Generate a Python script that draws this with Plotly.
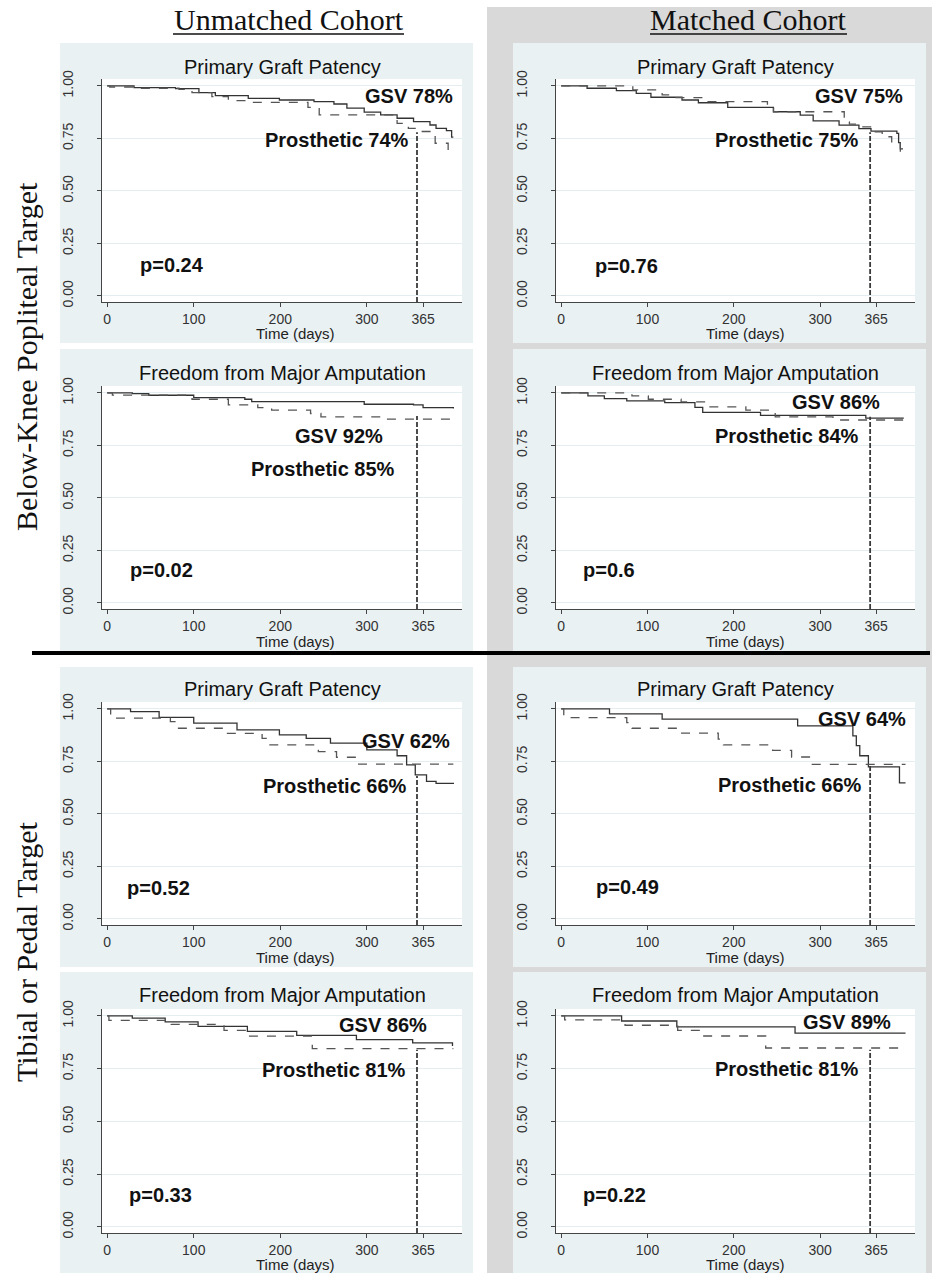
import plotly.graph_objects as go

W, H = 940, 1273

# ---------------- data ----------------
col_headers = ["Unmatched Cohort", "Matched Cohort"]
row_labels = ["Below-Knee Popliteal Target", "Tibial or Pedal Target"]
panel_titles = ["Primary Graft Patency", "Freedom from Major Amputation",
                "Primary Graft Patency", "Freedom from Major Amputation"]
x_tickvals = [0, 100, 200, 300, 365]
y_tickvals = [0, 0.25, 0.5, 0.75, 1.0]
y_ticktext = ["0.00", "0.25", "0.50", "0.75", "1.00"]
landmark_day = 358

# Unmatched cohort - below-knee popliteal - primary patency
u_bkp_gsv_t = [0, 31, 79, 106, 125, 163, 199, 239, 262, 277, 297, 316, 335, 354, 373, 380, 392, 398, 400]
u_bkp_gsv_s = [1.0, 0.992, 0.987, 0.968, 0.954, 0.941, 0.933, 0.925, 0.914, 0.894, 0.875, 0.862, 0.846, 0.830, 0.814, 0.798, 0.787, 0.756, 0.756]
u_bkp_pro_t = [0, 3, 31, 83, 98, 121, 140, 167, 232, 245, 331, 335, 348, 360, 375, 379, 394, 398]
u_bkp_pro_s = [1.0, 0.995, 0.989, 0.984, 0.968, 0.949, 0.930, 0.922, 0.898, 0.862, 0.846, 0.822, 0.798, 0.783, 0.767, 0.727, 0.671, 0.671]

# Unmatched - below-knee popliteal - freedom from major amputation
u_bka_gsv_t = [0, 29, 48, 100, 159, 167, 297, 354, 365, 400]
u_bka_gsv_s = [1.0, 0.997, 0.989, 0.978, 0.970, 0.959, 0.946, 0.943, 0.930, 0.926]
u_bka_pro_t = [0, 6, 98, 140, 174, 190, 235, 247, 316, 400]
u_bka_pro_s = [1.0, 0.990, 0.970, 0.943, 0.930, 0.918, 0.902, 0.886, 0.875, 0.875]

# Unmatched - tibial/pedal - primary patency
u_tbp_gsv_t = [0, 27, 60, 100, 150, 199, 230, 258, 300, 335, 346, 356, 369, 380, 400]
u_tbp_gsv_s = [1.0, 0.987, 0.960, 0.932, 0.900, 0.876, 0.860, 0.837, 0.805, 0.777, 0.734, 0.686, 0.655, 0.645, 0.643]
u_tbp_pro_t = [0, 4, 73, 81, 138, 179, 185, 244, 265, 288, 400]
u_tbp_pro_s = [1.0, 0.956, 0.940, 0.908, 0.884, 0.860, 0.829, 0.797, 0.770, 0.737, 0.737]

# Unmatched - tibial/pedal - freedom from major amputation
u_tba_gsv_t = [0, 29, 67, 105, 162, 219, 288, 353, 399]
u_tba_gsv_s = [1.0, 0.990, 0.972, 0.951, 0.927, 0.908, 0.888, 0.872, 0.858]
u_tba_pro_t = [0, 2, 74, 135, 162, 237, 400]
u_tba_pro_s = [1.0, 0.979, 0.960, 0.932, 0.904, 0.845, 0.845]

# Matched - below-knee popliteal - primary patency
m_bkp_gsv_t = [0, 30, 64, 87, 104, 140, 159, 193, 246, 277, 292, 322, 345, 359, 389, 391, 393, 396]
m_bkp_gsv_s = [1.0, 0.989, 0.978, 0.965, 0.946, 0.933, 0.920, 0.898, 0.877, 0.861, 0.834, 0.813, 0.797, 0.785, 0.774, 0.730, 0.700, 0.700]
m_bkp_pro_t = [0, 83, 117, 132, 167, 239, 246, 328, 334, 345, 364, 372, 383, 393, 395]
m_bkp_pro_s = [1.0, 0.981, 0.957, 0.944, 0.925, 0.898, 0.877, 0.829, 0.818, 0.805, 0.781, 0.758, 0.729, 0.686, 0.686]

# Matched - below-knee popliteal - freedom from major amputation
m_bka_gsv_t = [0, 31, 50, 76, 120, 155, 164, 231, 353, 397]
m_bka_gsv_s = [1.0, 0.986, 0.973, 0.962, 0.954, 0.931, 0.907, 0.893, 0.880, 0.880]
m_bka_pro_t = [0, 82, 101, 139, 170, 214, 248, 315, 397]
m_bka_pro_s = [1.0, 0.986, 0.970, 0.957, 0.934, 0.918, 0.886, 0.871, 0.871]

# Matched - tibial/pedal - primary patency
m_tbp_gsv_t = [0, 56, 117, 274, 338, 342, 346, 356, 392, 399]
m_tbp_gsv_s = [1.0, 0.976, 0.951, 0.919, 0.872, 0.825, 0.777, 0.724, 0.648, 0.648]
m_tbp_pro_t = [0, 3, 76, 82, 138, 182, 188, 245, 267, 291, 399]
m_tbp_pro_s = [1.0, 0.959, 0.935, 0.908, 0.885, 0.856, 0.829, 0.803, 0.771, 0.736, 0.736]

# Matched - tibial/pedal - freedom from major amputation
m_tba_gsv_t = [0, 70, 134, 271, 399]
m_tba_gsv_s = [1.0, 0.976, 0.948, 0.919, 0.919]
m_tba_pro_t = [0, 4, 74, 135, 162, 237, 399]
m_tba_pro_s = [1.0, 0.981, 0.956, 0.932, 0.905, 0.848, 0.848]

gsv_text = ["GSV 78%", "GSV 92%", "GSV 62%", "GSV 86%", "GSV 75%", "GSV 86%", "GSV 64%", "GSV 89%"]
pro_text = ["Prosthetic 74%", "Prosthetic 85%", "Prosthetic 66%", "Prosthetic 81%",
            "Prosthetic 75%", "Prosthetic 84%", "Prosthetic 66%", "Prosthetic 81%"]
p_text = ["p=0.24", "p=0.02", "p=0.52", "p=0.33", "p=0.76", "p=0.6", "p=0.49", "p=0.22"]
landmark_surv = [0.78, 0.89, 0.68, 0.84, 0.78, 0.886, 0.73, 0.84]

series = [
    (u_bkp_gsv_t, u_bkp_gsv_s, u_bkp_pro_t, u_bkp_pro_s),
    (u_bka_gsv_t, u_bka_gsv_s, u_bka_pro_t, u_bka_pro_s),
    (u_tbp_gsv_t, u_tbp_gsv_s, u_tbp_pro_t, u_tbp_pro_s),
    (u_tba_gsv_t, u_tba_gsv_s, u_tba_pro_t, u_tba_pro_s),
    (m_bkp_gsv_t, m_bkp_gsv_s, m_bkp_pro_t, m_bkp_pro_s),
    (m_bka_gsv_t, m_bka_gsv_s, m_bka_pro_t, m_bka_pro_s),
    (m_tbp_gsv_t, m_tbp_gsv_s, m_tbp_pro_t, m_tbp_pro_s),
    (m_tba_gsv_t, m_tba_gsv_s, m_tba_pro_t, m_tba_pro_s),
]

# ---------------- layout (pixel geometry) ----------------
gsv_pos = [(402, 0.95), (321, 0.797), (399, 0.848), (372, 0.956),
           (398, 0.952), (372, 0.957), (402, 0.953), (385, 0.971)]
pro_pos = [(351, 0.743), (335, 0.639), (349, 0.631), (348, 0.742),
           (347, 0.742), (347, 0.797), (351, 0.637), (347, 0.747)]
p_pos = [(36, 0.148), (24, 0.155), (21, 0.147), (23, 0.15),
         (37, 0.144), (23, 0.155), (38, 0.15), (23, 0.15)]

col_plot_x = [(102, 462), (556, 915)]
row_plot_y = [(79, 302), (386, 609), (702, 925), (1009, 1233)]
col_bg_x = [(60, 473), (513, 926)]
row_bg_y = [(43, 343), (349, 651), (667, 967), (972, 1273)]
title_y = [67, 373, 689, 995]
time_y = [333, 641, 957, 1264]
time_x = [295, 745]

XR = [-6, 410]
YR = [-0.029, 1.033]

SANS = "Liberation Sans, Arial, sans-serif"
SERIF = "Liberation Serif, Times New Roman, serif"


def px(x):
    return x / W


def py(y):
    return 1 - y / H


def paper_text(text, x, y, font, angle=0):
    return dict(text=text, x=px(x), y=py(y), xref="paper", yref="paper",
                xanchor="center", yanchor="middle", textangle=angle,
                showarrow=False, font=font)


fig = go.Figure()
shapes = []
annotations = []

# gray background for matched cohort
shapes.append(dict(type="rect", xref="paper", yref="paper", x0=px(487), x1=px(932),
                   y0=py(1273), y1=py(7), fillcolor="#d9d9d9", line_width=0, layer="below"))
# panel backgrounds
for c in range(2):
    for r in range(4):
        shapes.append(dict(type="rect", xref="paper", yref="paper",
                           x0=px(col_bg_x[c][0]), x1=px(col_bg_x[c][1]),
                           y0=py(row_bg_y[r][1]), y1=py(row_bg_y[r][0]),
                           fillcolor="#eaf1f3", line_width=0, layer="below"))
# white plot areas
for c in range(2):
    for r in range(4):
        shapes.append(dict(type="rect", xref="paper", yref="paper",
                           x0=px(col_plot_x[c][0]), x1=px(col_plot_x[c][1]),
                           y0=py(row_plot_y[r][1]), y1=py(row_plot_y[r][0]),
                           fillcolor="white", line_width=0, layer="below"))
# black separator
shapes.append(dict(type="line", xref="paper", yref="paper", x0=px(32), x1=px(930),
                   y0=py(653), y1=py(653), line=dict(color="black", width=4)))
# header underlines
shapes.append(dict(type="line", xref="paper", yref="paper", x0=px(173), x1=px(404),
                   y0=py(34), y1=py(34), line=dict(color="#111", width=1.5)))
shapes.append(dict(type="line", xref="paper", yref="paper", x0=px(650), x1=px(847),
                   y0=py(34), y1=py(34), line=dict(color="#111", width=1.5)))

serif_font = dict(family=SERIF, size=30, color="#111")
annotations.append(paper_text(col_headers[0], 289, 20, serif_font))
annotations.append(paper_text(col_headers[1], 748, 20, serif_font))
annotations.append(paper_text(row_labels[0], 26, 357, serif_font, -90))
annotations.append(paper_text(row_labels[1], 26, 952, serif_font, -90))

layout_axes = {}
for i in range(8):
    c, r = divmod(i, 4)
    n = i + 1
    xa = "xaxis" if n == 1 else f"xaxis{n}"
    ya = "yaxis" if n == 1 else f"yaxis{n}"
    xr = "x" if n == 1 else f"x{n}"
    yr = "y" if n == 1 else f"y{n}"
    layout_axes[xa] = dict(domain=[px(col_plot_x[c][0]), px(col_plot_x[c][1])], anchor=yr,
                           range=XR, tickvals=x_tickvals, ticks="outside", ticklen=4,
                           tickcolor="#444", showline=True, linecolor="#444", linewidth=1,
                           showgrid=False, zeroline=False,
                           tickfont=dict(family=SANS, size=14, color="#333"))
    layout_axes[ya] = dict(domain=[py(row_plot_y[r][1]), py(row_plot_y[r][0])], anchor=xr,
                           range=YR, tickvals=y_tickvals, ticktext=y_ticktext, ticks="outside",
                           ticklen=4, tickcolor="#444", showline=True, linecolor="#444", linewidth=1,
                           showgrid=True, gridcolor="#e4edf0", gridwidth=1, zeroline=False,
                           tickangle=-90, ticklabelstandoff=18,
                           tickfont=dict(family=SANS, size=14, color="#333"))

    gt, gs, pt, ps = series[i]
    fig.add_trace(go.Scatter(x=gt, y=gs, mode="lines", line_shape="hv",
                             line=dict(color="#333", width=1.3), xaxis=xr, yaxis=yr,
                             showlegend=False, hoverinfo="skip"))
    fig.add_trace(go.Scatter(x=pt, y=ps, mode="lines", line_shape="hv",
                             line=dict(color="#555", width=1.3, dash="dash"), xaxis=xr, yaxis=yr,
                             showlegend=False, hoverinfo="skip"))
    fig.add_trace(go.Scatter(x=[landmark_day, landmark_day], y=[YR[0], landmark_surv[i]], mode="lines",
                             line=dict(color="#3a3a3a", width=1.8, dash="5px,2px"), xaxis=xr, yaxis=yr,
                             showlegend=False, hoverinfo="skip"))

    annotations.append(paper_text(panel_titles[r], (col_plot_x[c][0] + col_plot_x[c][1]) / 2,
                                  title_y[r], dict(family=SANS, size=20, color="#111")))
    annotations.append(paper_text("Time (days)", time_x[c], time_y[r],
                                  dict(family=SANS, size=15, color="#222")))
    bold = dict(family=SANS, size=20, color="#111")
    annotations.append(dict(text="<b>" + gsv_text[i] + "</b>", x=gsv_pos[i][0], y=gsv_pos[i][1],
                            xref=xr, yref=yr, xanchor="right", yanchor="middle",
                            showarrow=False, font=bold))
    annotations.append(dict(text="<b>" + pro_text[i] + "</b>", x=pro_pos[i][0], y=pro_pos[i][1],
                            xref=xr, yref=yr, xanchor="right", yanchor="middle",
                            showarrow=False, font=bold))
    annotations.append(dict(text="<b>" + p_text[i] + "</b>", x=p_pos[i][0], y=p_pos[i][1],
                            xref=xr, yref=yr, xanchor="left", yanchor="middle",
                            showarrow=False, font=bold))

fig.update_layout(width=W, height=H, margin=dict(l=0, r=0, t=0, b=0, autoexpand=False),
                  paper_bgcolor="white", plot_bgcolor="rgba(0,0,0,0)",
                  shapes=shapes, annotations=annotations, showlegend=False, **layout_axes)

fig.write_html("out.html", config={"displayModeBar": False},
               post_script="document.body.style.margin='0px';document.body.style.overflow='hidden';")
